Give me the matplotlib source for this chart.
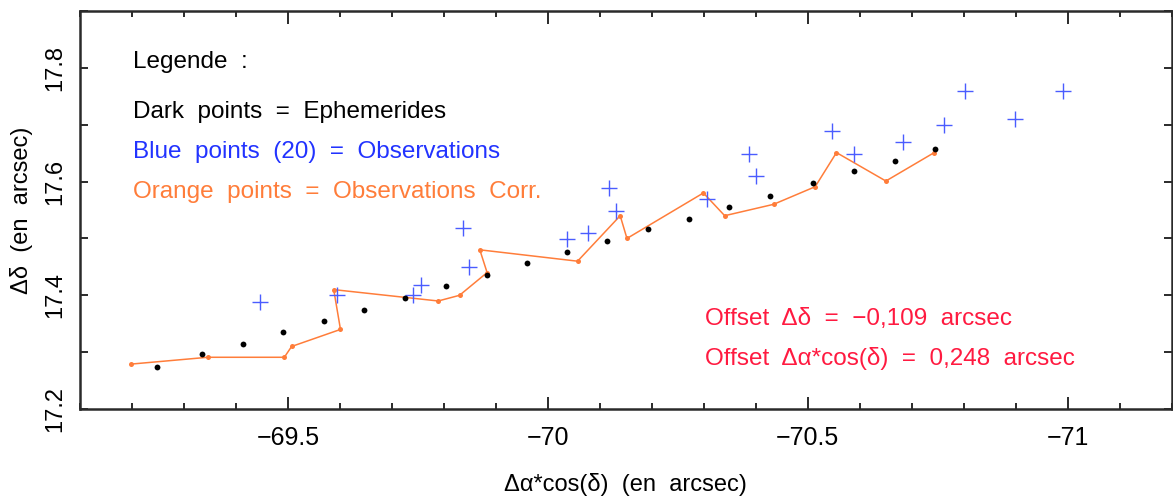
import numpy as np
import matplotlib
matplotlib.use("Agg")
import matplotlib.pyplot as plt
from matplotlib.ticker import MultipleLocator, FixedLocator

plt.rcParams['font.family'] = ['Liberation Sans', 'DejaVu Sans']

# Ephemerides (dark points), in arcsec
eph_x = [-69.249, -69.335, -69.413, -69.491, -69.569, -69.647, -69.725, -69.803, -69.882, -69.959,
         -70.037, -70.114, -70.193, -70.271, -70.349, -70.427, -70.510, -70.588, -70.667, -70.744]
eph_y = [17.274, 17.296, 17.315, 17.335, 17.355, 17.375, 17.395, 17.416, 17.435, 17.456,
         17.476, 17.496, 17.516, 17.535, 17.556, 17.575, 17.598, 17.618, 17.637, 17.658]

# Observations (blue crosses), in observation order
obs_x = [-69.446, -69.594, -69.741, -69.755, -69.849, -69.836, -70.037, -70.078, -70.131, -70.117,
         -70.305, -70.387, -70.400, -70.547, -70.588, -70.682, -70.762, -70.803, -70.898, -70.991]
obs_y = [17.388, 17.400, 17.400, 17.419, 17.449, 17.519, 17.499, 17.509, 17.549, 17.589,
         17.569, 17.649, 17.609, 17.689, 17.649, 17.669, 17.700, 17.760, 17.710, 17.760]

# Mean offsets applied to the observations
offset_dec = -0.109
offset_ra = 0.248

corr_x = np.array(obs_x) + offset_ra
corr_y = np.array(obs_y) + offset_dec

BLUE = '#4a5cff'
BLUE_TXT = '#2233ff'
ORANGE = '#ff7d3a'
RED = '#ff1a40'
AXC = '#2a2a2a'
FS = 17.5

fig = plt.figure(figsize=(11.73, 5.01), dpi=100)
ax = fig.add_axes([0.0682, 0.1836, 0.9308, 0.7944])

ax.plot(corr_x, corr_y, color=ORANGE, lw=1.1, zorder=2)
ax.plot(corr_x, corr_y, 'o', color=ORANGE, ms=3.6, mec='none', zorder=3)
ax.plot(obs_x, obs_y, '+', color=BLUE, ms=11, mew=1.0, zorder=4)
ax.plot(eph_x, eph_y, 'o', color='black', ms=4.2, mec='none', zorder=5)

ax.set_xlim(-69.1, -71.2)
ax.set_ylim(17.2, 17.9)

ax.xaxis.set_major_locator(FixedLocator([-69.5, -70, -70.5, -71]))
ax.xaxis.set_minor_locator(MultipleLocator(0.1))
ax.set_xticklabels(['\u221269.5', '\u221270', '\u221270.5', '\u221271'])
ax.yaxis.set_major_locator(FixedLocator([17.2, 17.4, 17.6, 17.8]))
ax.yaxis.set_minor_locator(MultipleLocator(0.1))

ax.tick_params(which='both', direction='in', top=True, right=True, color=AXC, width=1.4)
ax.tick_params(axis='x', which='major', length=9, pad=12, labelsize=18)
ax.tick_params(axis='x', which='minor', length=4.5)
ax.tick_params(axis='y', which='both', length=6)
ax.tick_params(axis='y', which='major', pad=10, labelsize=17)
for lbl in ax.get_yticklabels():
    lbl.set_rotation(90)
    lbl.set_va('center')

for sp in ax.spines.values():
    sp.set_linewidth(1.8)
    sp.set_color(AXC)

ax.set_xlabel('\u0394\u03b1*cos(\u03b4)  (en  arcsec)', fontsize=17, labelpad=17)
ax.set_ylabel('\u0394\u03b4  (en  arcsec)', fontsize=17, labelpad=8)

tx = 0.0485
ax.text(tx, 0.857, 'Legende  :', fontsize=FS, color='black', va='baseline', transform=ax.transAxes)
ax.text(tx, 0.731, 'Dark  points  =  Ephemerides', fontsize=FS, color='black',
        va='baseline', transform=ax.transAxes)
ax.text(tx, 0.631, 'Blue  points  (20)  =  Observations', fontsize=FS, color=BLUE_TXT,
        va='baseline', transform=ax.transAxes)
ax.text(tx, 0.530, 'Orange  points  =  Observations  Corr.', fontsize=FS, color=ORANGE,
        va='baseline', transform=ax.transAxes)

dec_txt = f'{offset_dec:.3f}'.replace('.', ',').replace('-', '\u2212')
ra_txt = f'{offset_ra:.3f}'.replace('.', ',')
ax.text(0.572, 0.211, f'Offset  \u0394\u03b4  =  {dec_txt}  arcsec', fontsize=FS, color=RED,
        va='baseline', transform=ax.transAxes)
ax.text(0.572, 0.111, f'Offset  \u0394\u03b1*cos(\u03b4)  =  {ra_txt}  arcsec', fontsize=FS, color=RED,
        va='baseline', transform=ax.transAxes)

fig.savefig('out.png', dpi=100)
